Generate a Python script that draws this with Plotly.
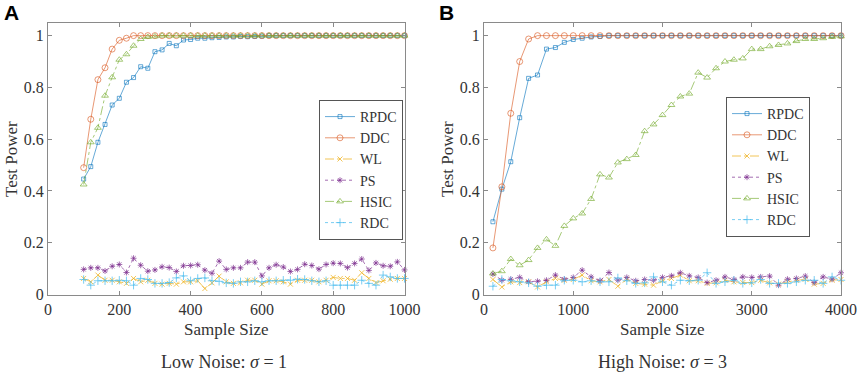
import plotly.graph_objects as go

W, H = 858, 374

# ---------------- data ----------------
xA = list(range(100, 1001, 20))
xB = list(range(100, 4001, 100))

RPDC_A = [0.446,0.494,0.588,0.657,0.732,0.758,0.82,0.838,0.88,0.874,0.938,0.945,0.97,0.961,0.983,0.985,0.99,
          0.99,0.992,0.993,0.995,0.995,0.997,0.996,0.997,0.998] + [1.0]*20
DDC_A = [0.49,0.677,0.83,0.876,0.948,0.982,0.99] + [1.0]*39
HSIC_A = [0.425,0.588,0.644,0.768,0.839,0.907,0.928,0.961,0.987,0.995,0.997] + [1.0]*35
PS_A = [0.097,0.103,0.103,0.091,0.109,0.116,0.085,0.14,0.113,0.090,0.095,0.107,0.104,0.089,0.111,0.112,
        0.115,0.094,0.082,0.129,0.097,0.103,0.103,0.125,0.125,0.072,0.103,0.115,0.106,0.089,0.097,0.117,
        0.112,0.098,0.116,0.121,0.12,0.104,0.12,0.137,0.093,0.122,0.111,0.109,0.126,0.095]
WL_A = [0.062,0.049,0.075,0.055,0.055,0.049,0.043,0.062,0.049,0.055,0.043,0.040,0.043,0.040,0.049,0.049,
        0.053,0.023,0.045,0.071,0.049,0.043,0.045,0.055,0.055,0.040,0.053,0.053,0.049,0.040,0.055,0.055,
        0.055,0.049,0.055,0.066,0.062,0.062,0.055,0.084,0.062,0.046,0.053,0.059,0.062,0.062]
RDC_A = [0.058,0.036,0.053,0.053,0.053,0.055,0.053,0.036,0.062,0.058,0.043,0.043,0.046,0.064,0.072,0.053,
         0.062,0.064,0.053,0.051,0.045,0.043,0.049,0.049,0.053,0.049,0.053,0.053,0.055,0.055,0.059,0.058,
         0.053,0.049,0.053,0.036,0.036,0.036,0.036,0.055,0.043,0.036,0.075,0.068,0.062,0.062]

RPDC_B = [0.281,0.407,0.513,0.683,0.835,0.848,0.948,0.954,0.974,0.985,0.99,0.995,0.997] + [1.0]*27
DDC_B = [0.18,0.416,0.70,0.90,0.987] + [1.0]*35
HSIC_B = [0.081,0.09,0.137,0.113,0.133,0.18,0.213,0.188,0.265,0.294,
          0.313,0.369,0.464,0.452,0.51,0.523,0.539,0.631,0.657,0.693,
          0.732,0.765,0.776,0.857,0.838,0.874,0.9,0.907,0.912,0.948,
          0.948,0.959,0.964,0.97,0.979,0.987,0.987,0.99,0.995,0.997]
PS_B = [0.079,0.055,0.059,0.066,0.049,0.051,0.055,0.075,0.059,0.066,0.094,0.068,0.053,0.085,0.055,0.066,
        0.053,0.058,0.055,0.066,0.072,0.084,0.072,0.066,0.046,0.055,0.068,0.058,0.068,0.066,0.068,0.071,
        0.036,0.059,0.062,0.071,0.046,0.068,0.059,0.084]
WL_B = [0.058,0.029,0.049,0.046,0.049,0.029,0.049,0.062,0.055,0.058,0.075,0.053,0.049,0.058,0.032,0.059,
        0.043,0.040,0.036,0.053,0.062,0.075,0.053,0.053,0.043,0.045,0.055,0.049,0.046,0.046,0.055,0.045,
        0.040,0.049,0.055,0.059,0.040,0.043,0.055,0.058]
RDC_B = [0.032,0.058,0.053,0.049,0.045,0.032,0.036,0.036,0.055,0.055,0.049,0.053,0.049,0.049,0.064,0.053,
         0.043,0.045,0.068,0.049,0.036,0.055,0.053,0.055,0.084,0.043,0.049,0.055,0.043,0.045,0.058,0.043,
         0.043,0.043,0.049,0.055,0.055,0.043,0.068,0.055]

methods = ["RPDC", "DDC", "WL", "PS", "HSIC", "RDC"]
y_tick_vals = [0, 0.2, 0.4, 0.6, 0.8, 1]
y_tick_text = ["0", "0.2", "0.4", "0.6", "0.8", "1"]
xA_ticks = [0, 200, 400, 600, 800, 1000]
xB_ticks = [0, 1000, 2000, 3000, 4000]

# ---------------- styles ----------------
styles = {
    "RPDC": dict(color="rgba(0,114,189,0.6)", dash="solid", symbol="square-open", size=4),
    "DDC": dict(color="rgba(217,83,25,0.6)", dash="solid", symbol="circle-open", size=6),
    "WL": dict(color="rgba(237,177,32,0.75)", dash="dashdot", symbol="x-thin-open", size=5),
    "PS": dict(color="rgba(126,47,142,0.7)", dash="dot", symbol="asterisk-open", size=5),
    "HSIC": dict(color="rgba(119,172,48,0.65)", dash="dashdot", symbol="triangle-up-open", size=6),
    "RDC": dict(color="rgba(77,190,238,0.75)", dash="dot", symbol="cross-thin-open", size=6),
}

dataA = dict(RPDC=RPDC_A, DDC=DDC_A, WL=WL_A, PS=PS_A, HSIC=HSIC_A, RDC=RDC_A)
dataB = dict(RPDC=RPDC_B, DDC=DDC_B, WL=WL_B, PS=PS_B, HSIC=HSIC_B, RDC=RDC_B)

fig = go.Figure()
for panel, xs, data, xa, ya, leg in [("A", xA, dataA, "x", "y", "legend"),
                                     ("B", xB, dataB, "x2", "y2", "legend2")]:
    for m in methods:
        s = styles[m]
        fig.add_trace(go.Scatter(
            x=xs, y=data[m], name=m, mode="lines+markers",
            xaxis=xa, yaxis=ya, legend=leg, cliponaxis=False,
            line=dict(color=s["color"], dash=s["dash"], width=1),
            marker=dict(symbol=s["symbol"], size=s["size"], color=s["color"],
                        line=dict(color=s["color"], width=1)),
        ))

serif = "Liberation Serif"
axcol = "#8a8a8a"
txtcol = "#333"

def px(v):
    return v / W

def py(v):
    return 1 - v / H

y_dom = [py(294.5), py(22.7)]
common_axis = dict(showline=True, linecolor=axcol, linewidth=1, mirror="ticks", automargin=False,
                   ticks="inside", ticklen=4, tickcolor=axcol, showgrid=False, zeroline=False,
                   tickfont=dict(family=serif, size=16, color=txtcol))

legend_style = dict(bgcolor="white", bordercolor="#555", borderwidth=1,
                    font=dict(family=serif, size=14, color=txtcol),
                    xanchor="left", yanchor="top", tracegroupgap=0, itemwidth=30)

fig.update_layout(
    template="none",
    width=W, height=H, margin=dict(l=0, r=0, t=0, b=0, autoexpand=False),
    font=dict(family=serif, color=txtcol),
    paper_bgcolor="white", plot_bgcolor="white",
    xaxis=dict(domain=[px(48), px(404.5)], range=[0, 1000], tickvals=xA_ticks, anchor="y", **common_axis),
    yaxis=dict(domain=y_dom, range=[0, 1.05], tickvals=y_tick_vals, ticktext=y_tick_text, anchor="x", **common_axis),
    xaxis2=dict(domain=[px(484), px(841)], range=[0, 4000], tickvals=xB_ticks, anchor="y2", **common_axis),
    yaxis2=dict(domain=y_dom, range=[0, 1.05], tickvals=y_tick_vals, ticktext=y_tick_text, anchor="x2", **common_axis),
    legend=dict(x=px(319), y=py(100), **legend_style),
    legend2=dict(x=px(726), y=py(97), **legend_style),
    showlegend=True,
)

ann = []
def text(x, y, t, size, family=serif, bold=False, angle=0, xanchor="center"):
    ann.append(dict(x=px(x), y=py(y), xref="paper", yref="paper", text=("<b>%s</b>" % t) if bold else t,
                    showarrow=False, font=dict(family=family, size=size, color=txtcol if not bold else "black"),
                    textangle=angle, xanchor=xanchor, yanchor="middle"))

text(12, 159, "Test Power", 17, angle=-90)
text(448, 159, "Test Power", 17, angle=-90)
text(226, 329, "Sample Size", 17)
text(662, 329, "Sample Size", 17)
text(224, 362, "Low Noise: <i>σ</i> = 1", 18)
text(662, 362, "High Noise: <i>σ</i> = 3", 18)
text(2, 12, "A", 21, family="Liberation Sans", bold=True, xanchor="left")
text(437, 12, "B", 21, family="Liberation Sans", bold=True, xanchor="left")
fig.update_layout(annotations=ann)

fig.write_html("out.html", config={"displayModeBar": False},
               post_script="document.body.style.margin='0';document.body.style.overflow='hidden';")
